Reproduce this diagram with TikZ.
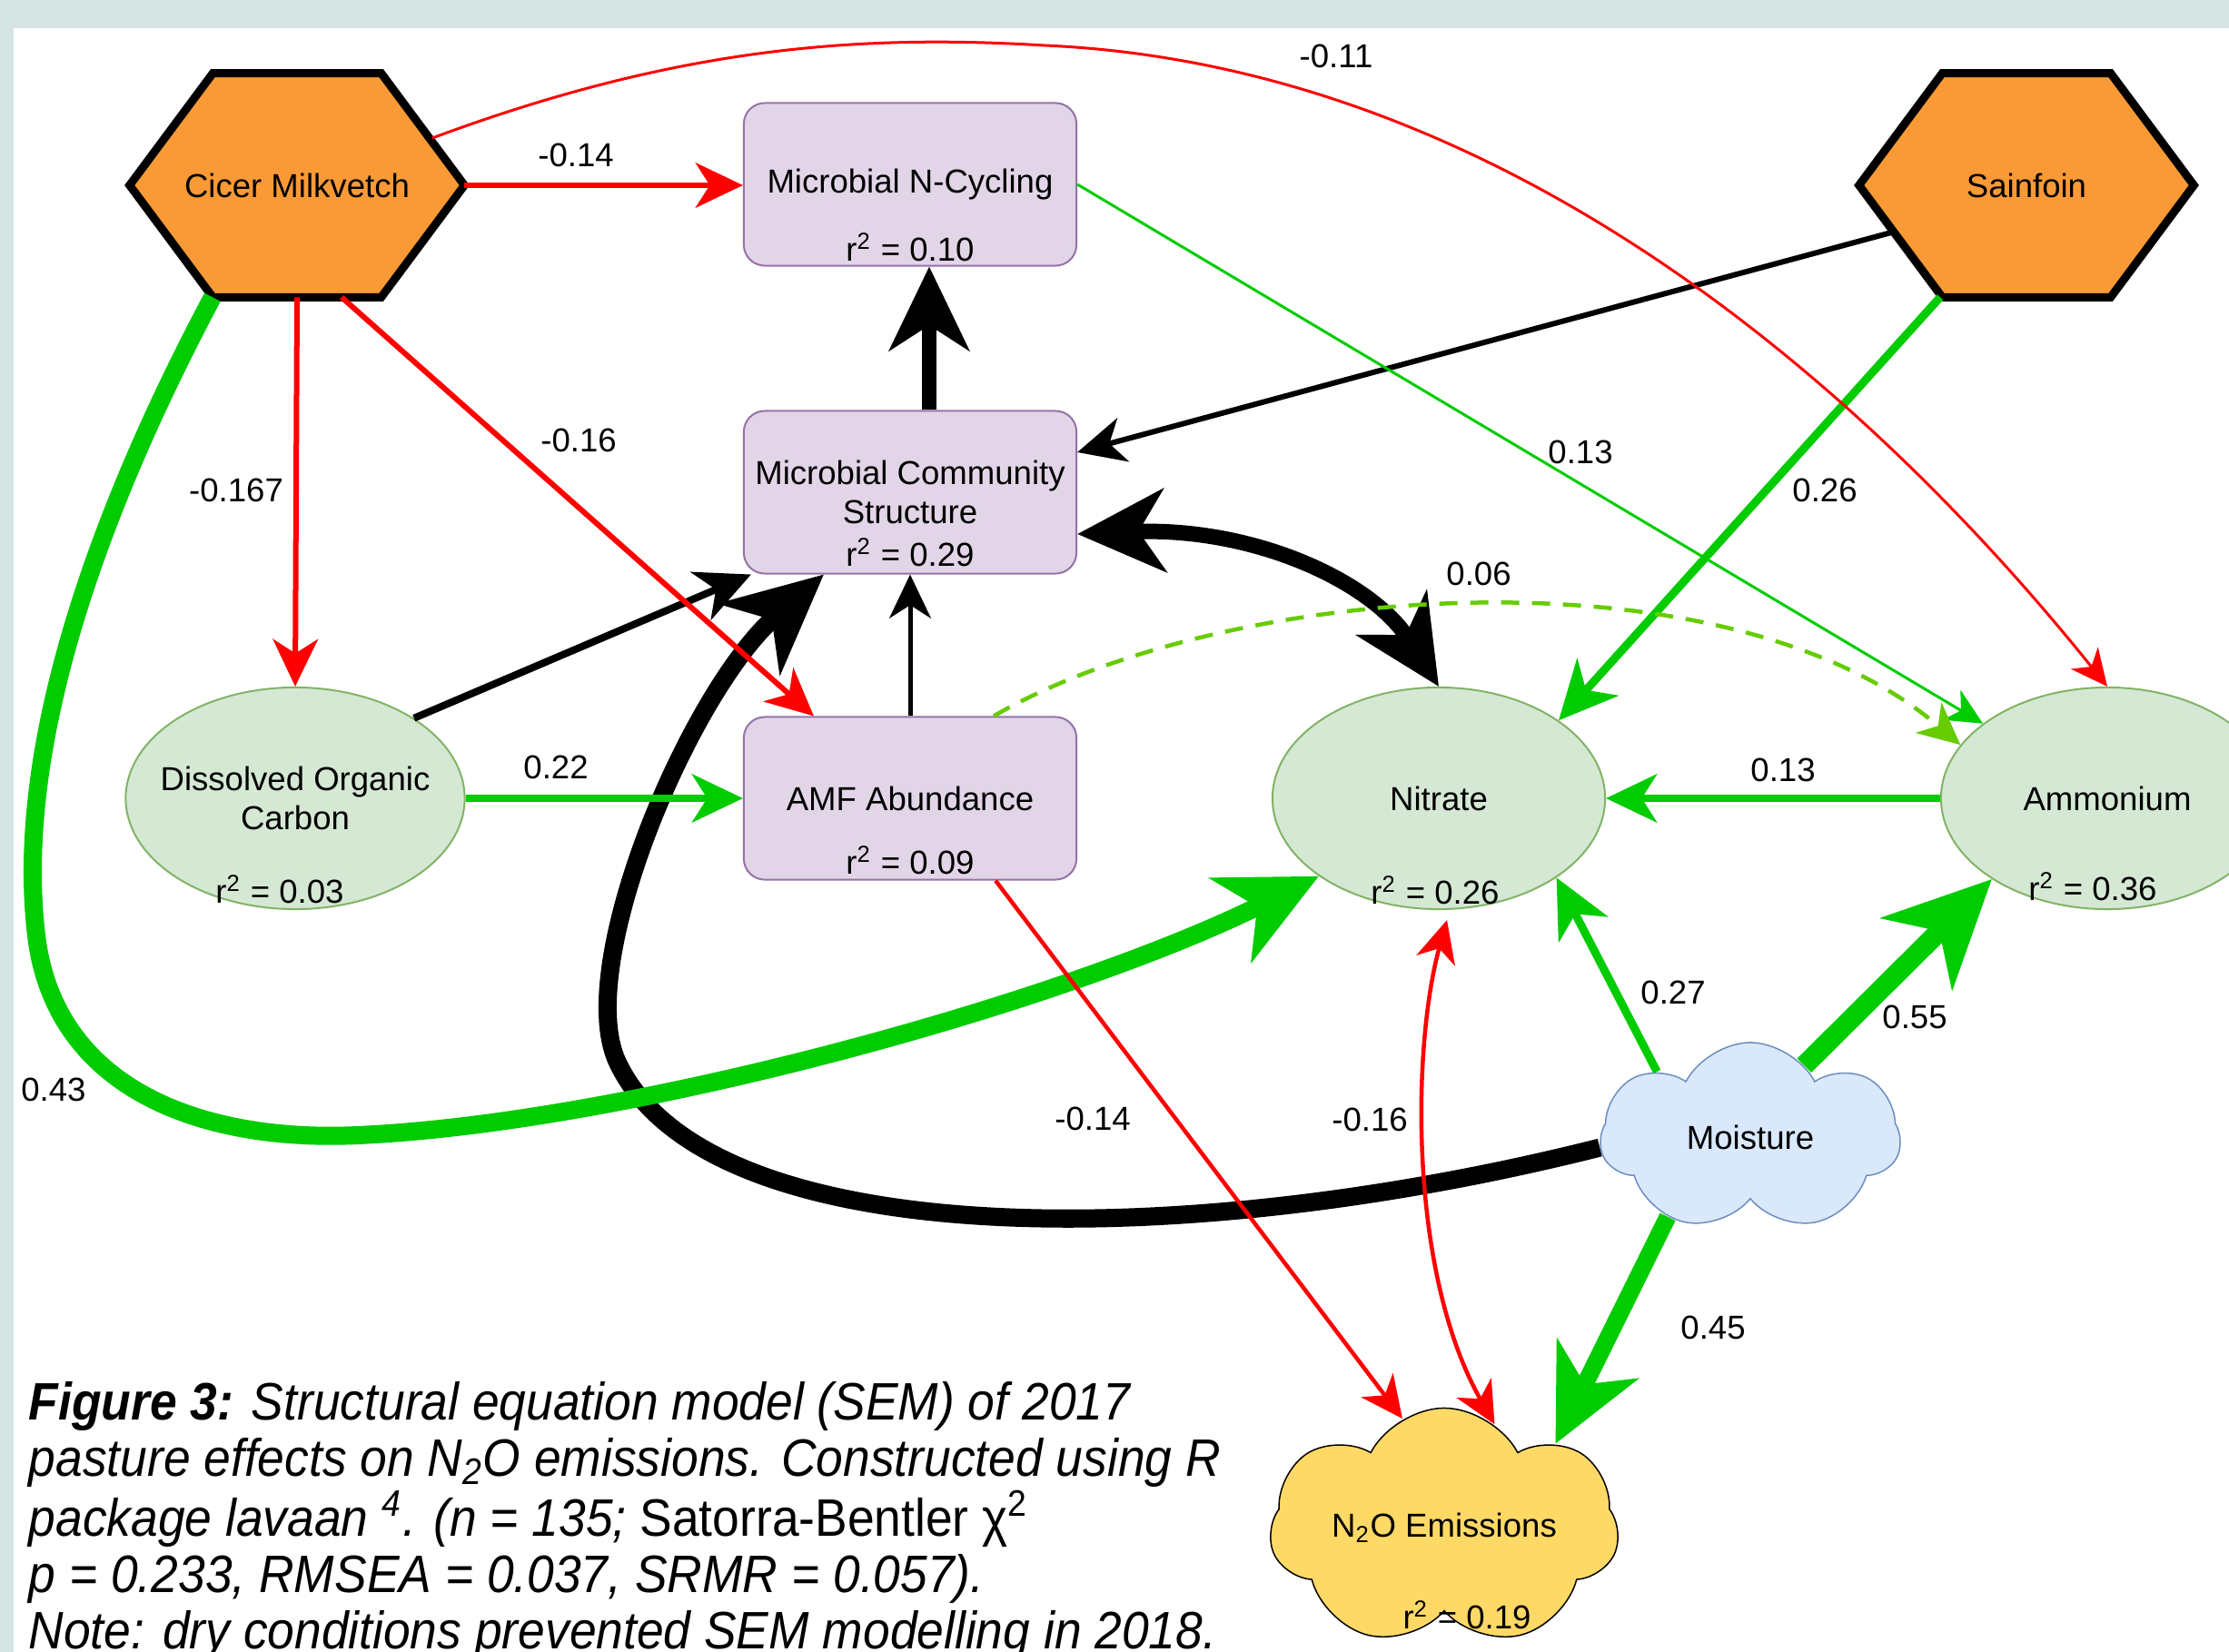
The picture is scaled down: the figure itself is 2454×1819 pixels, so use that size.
\documentclass[tikz,border=0pt]{standalone}
\usepackage{fontspec}
\setmainfont{Liberation Sans}
\newfontfamily\capfont{Liberation Sans}[FakeStretch=0.92]
\usetikzlibrary{arrows.meta,shapes.geometric,shapes.symbols,backgrounds}

\definecolor{bandgray}{HTML}{D6E3E3}
\definecolor{hexfill}{HTML}{F99A36}
\definecolor{boxfill}{HTML}{E1D5E7}
\definecolor{boxline}{HTML}{9673A6}
\definecolor{ellfill}{HTML}{D5E8D4}
\definecolor{ellline}{HTML}{82B366}
\definecolor{moistfill}{HTML}{DAE8FC}
\definecolor{moistline}{HTML}{6C8EBF}
\definecolor{ntofill}{HTML}{FFD966}
\definecolor{posgreen}{HTML}{00CC00}
\definecolor{dashgreen}{HTML}{66CC00}
\definecolor{negred}{HTML}{FF0000}

\begin{document}
\begin{tikzpicture}[x=0.01cm, y=-0.01cm,
    >={Stealth[length=8pt 4, width'=0pt 0.95, inset'=0pt 0.3]},
    every node/.style={font=\fontsize{10.4pt}{12pt}\selectfont},
    plant/.style={rectangle, inner sep=0pt, minimum width=3.67cm, minimum height=2.45cm},
    hexline/.style={draw=black, line width=0.09cm, fill=hexfill, line join=miter},
    micro/.style={rectangle, rounded corners=0.23cm, draw=boxline, fill=boxfill,
      line width=0.02cm, minimum width=3.66cm, minimum height=1.79cm, align=center},
    soil/.style={ellipse, draw=ellline, fill=ellfill, line width=0.02cm,
      minimum width=3.66cm, minimum height=2.44cm, align=center, inner sep=0pt},
    puff/.style={cloud, cloud puffs=7, cloud puff arc=125, cloud ignores aspect,
      line width=0.015cm, align=center, inner sep=0pt},
    rsq/.style={anchor=base, inner sep=0pt},
    wt/.style={inner sep=0pt},
    posline/.style={draw=posgreen, line width=#1},
    negline/.style={draw=negred, line width=#1},
    blkline/.style={draw=black, line width=#1}]

  \begin{scope}[on background layer]
    \fill[white] (0,0) rectangle (2454,1819);
    \fill[bandgray] (0,0) rectangle (2454,31);
    \fill[bandgray] (0,0) rectangle (15,1819);
  \end{scope}
  \useasboundingbox (0,0) rectangle (2454,1819);

  \node[plant] (cicer) at (327,204) {Cicer Milkvetch};
  \node[plant] (sainfoin) at (2231,204) {Sainfoin};
  \begin{scope}[on background layer]
    \foreach \h in {cicer,sainfoin}
      \filldraw[hexline] (\h.west) -- ([xshift=0.915cm]\h.north west) -- ([xshift=-0.915cm]\h.north east)
        -- (\h.east) -- ([xshift=-0.915cm]\h.south east) -- ([xshift=0.915cm]\h.south west) -- cycle;
  \end{scope}

  \node[micro, label={[rsq, yshift=0.06cm]south:r\textsuperscript{2} = 0.10}] (ncyc) at (1002,203) {Microbial N-Cycling};
  \node[micro, label={[rsq, yshift=0.09cm]south:r\textsuperscript{2} = 0.29}] (mcs) at (1002,542) {Microbial Community\\Structure};
  \node[micro, label={[rsq, yshift=0.07cm]south:r\textsuperscript{2} = 0.09}] (amf) at (1002,879) {AMF Abundance};

  \node[soil, minimum width=3.73cm, inner xsep=-0.6cm, label={[rsq, xshift=-0.17cm, yshift=0.08cm]south:r\textsuperscript{2} = 0.03}] (doc) at (325,879) {Dissolved Organic\\Carbon};
  \node[soil, label={[rsq, xshift=-0.04cm, yshift=0.07cm]south:r\textsuperscript{2} = 0.26}] (nitrate) at (1584,879) {Nitrate};
  \node[soil, label={[rsq, xshift=-0.16cm, yshift=0.11cm]south:r\textsuperscript{2} = 0.36}] (ammonium) at (2320,879) {Ammonium};

  \node[puff, fill=moistfill, draw=moistline, minimum width=3.3cm, minimum height=2.08cm] (moist) at (1927,1252) {Moisture};
  \node[puff, fill=ntofill, draw=black, minimum width=3.84cm, minimum height=2.63cm,
    label={[rsq, xshift=0.25cm, yshift=-0.96cm]center:r\textsuperscript{2} = 0.19}] (nto) at (1590,1682) {N\textsubscript{2}O Emissions};

  \draw[->, blkline=0.2cm] (moist.184) .. controls (1300,1380) and (780,1380) .. (680,1170)
    .. controls (630,1065) and (760,760) .. ([xshift=-0.95cm]mcs.south);
  \draw[->, blkline=0.08cm] (doc.34) -- ([xshift=0.09cm]mcs.south west);
  \draw[->, blkline=0.05cm] (amf.north) -- (mcs.south);
  \draw[->, blkline=0.06cm] ([shift={(-145,51)}]sainfoin.center) -- ([yshift=0.44cm]mcs.east);
  \draw[->, blkline=0.16cm] ([xshift=0.21cm]mcs.north) -- ([xshift=0.21cm]ncyc.south);
  \draw[<->, blkline=0.17cm] ([yshift=-0.46cm]mcs.east) .. controls (1380,580) and (1510,640) .. (nitrate.north);

  \draw[->, posline=0.2cm] ([xshift=-0.93cm]cicer.south) .. controls (110,560) and (15,820) .. (40,1030)
    .. controls (60,1198) and (220,1258) .. (394,1250)
    .. controls (700,1236) and (1180,1100) .. (nitrate.213);
  \draw[->, posline=0.07cm] (doc.east) -- (amf.west);
  \draw[->, posline=0.03cm] (ncyc.east) -- (ammonium.149);
  \draw[->, posline=0.09cm] ([xshift=-0.95cm]sainfoin.south) -- (nitrate.33);
  \draw[->, posline=0.07cm] (ammonium.west) -- (nitrate.east);
  \draw[->, posline=0.09cm] (moist.145) -- (nitrate.-34);
  \draw[->, posline=0.22cm] (moist.53) -- (ammonium.215);
  \draw[->, posline=0.19cm] (moist.-136) -- (nto.37);
  \draw[->, draw=dashgreen, line width=0.045cm, dash pattern=on 0.2cm off 0.14cm]
    ([xshift=0.92cm]amf.north) .. controls (1350,640) and (1900,600) .. (ammonium.160);

  \draw[->, negline=0.06cm] (cicer.east) -- (ncyc.west |- cicer.east);
  \draw[->, negline=0.06cm] (cicer.south) -- (doc.north);
  \draw[->, negline=0.06cm] ([xshift=0.49cm]cicer.south) -- ([xshift=-1.06cm]amf.north);
  \draw[->, negline=0.03cm] ([shift={(149,-52)}]cicer.center) .. controls (750,50) and (950,38) .. (1150,50)
    .. controls (1650,72) and (2050,420) .. (ammonium.north);
  \draw[->, negline=0.045cm] ([xshift=0.94cm]amf.south) -- (nto.111);
  \draw[<->, negline=0.045cm] ([xshift=0.09cm, yshift=-0.11cm]nitrate.south)
    .. controls (1555,1150) and (1550,1400) .. (nto.64);

  \node[wt] (w1) at (634,171) {-0.14};
  \node[wt] (w2) at (1471,62) {-0.11};
  \node[wt] (w3) at (260,540) {-0.167};
  \node[wt] (w4) at (637,485) {-0.16};
  \node[wt] (w5) at (59,1200) {0.43};
  \node[wt] (w6) at (612,845) {0.22};
  \node[wt] (w7) at (1740,498) {0.13};
  \node[wt] (w8) at (2009,540) {0.26};
  \node[wt] (w9) at (1963,848) {0.13};
  \node[wt] (w10) at (1842,1093) {0.27};
  \node[wt] (w11) at (2108,1120) {0.55};
  \node[wt] (w12) at (1886,1462) {0.45};
  \node[wt] (w13) at (1628,632) {0.06};
  \node[wt] (w14) at (1203,1232) {-0.14};
  \node[wt] (w15) at (1508,1233) {-0.16};

  \node[anchor=north west, inner sep=0pt, align=left,
    font=\capfont\itshape\fontsize{16.5pt}{17.64pt}\selectfont] (caption) at (31,1521)
    {\textbf{Figure 3:} Structural equation model (SEM) of 2017\\
     pasture effects on N\textsubscript{2}O emissions. Constructed using R\\
     package lavaan \textsuperscript{4}. (n = 135; {\upshape Satorra-Bentler χ\textsuperscript{2}}\\
     p = 0.233, RMSEA = 0.037, SRMR = 0.057).\\
     Note: dry conditions prevented SEM modelling in 2018.};
\end{tikzpicture}
\end{document}
